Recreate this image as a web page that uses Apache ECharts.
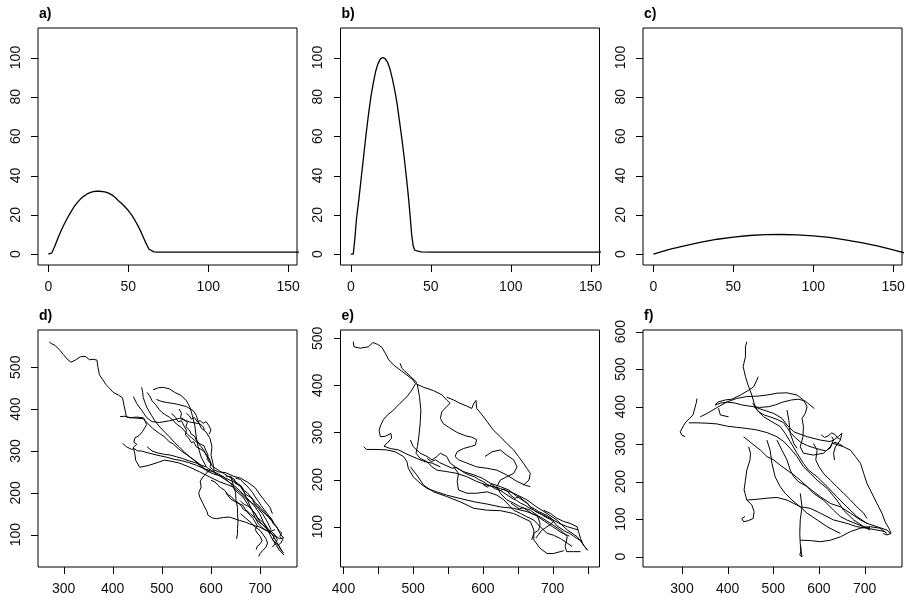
<!DOCTYPE html>
<html><head><meta charset="utf-8">
<script src="https://cdn.jsdelivr.net/npm/echarts@6/dist/echarts.min.js"></script>
<style>html,body{margin:0;padding:0;background:#fff}#c{width:907px;height:604px}</style>
</head><body><div id="c"></div>
<script>
// ---------------- data ----------------
const panelLabels = ['a)', 'b)', 'c)', 'd)', 'e)', 'f)'];

const curveA = [[0,0],[1,0],[2,0.5],[3,2.2],[4,4],[6,8.2],[8,12],[10,15.5],[12,18.5],[14,21.4],[16,24],[18,26.2],[20,28],[22,29.4],[24,30.5],[26,31.3],[28,31.8],[30,32],[32,32],[34,31.8],[36,31.5],[38,30.9],[40,30],[42,28.7],[44,27],[46,25.6],[48,24],[50,22.2],[52,20],[54,17.4],[56,14.5],[58,11.2],[60,7.5],[61,5.6],[62,4],[63,2.5],[64,1.6],[66,1.2],[68,1],[80,1],[100,1],[120,1],[140,1],[160,1]];
const curveB = [[0,0],[1.5,0],[2.5,8],[3.5,18],[5,28],[6.5,39],[8,50],[9.5,61],[11,71],[12.5,80],[14,87],[15.5,93],[17,97],[18.5,99.3],[20,100],[21.5,99.3],[23,97.5],[24.5,94],[26,89],[27.5,83],[29,76],[30.5,67],[32,58],[33.5,48],[35,37],[36,29],[37,20],[38,10],[39,4],[40,2],[42,1.5],[44,1.2],[50,1],[100,1],[160,1]];
const curveC = [[0,0],[10,2.4],[20,4.4],[30,6.1],[40,7.6],[50,8.7],[60,9.5],[70,9.9],[80,10],[90,9.8],[100,9.3],[110,8.5],[120,7.3],[130,5.9],[140,4.2],[150,2.2],[160,0]];

const tracksD = [
 [[271,560],[276,556],[283,552],[288,546],[293,540],[300,530],[307,520],[315,512],[324,517],[334,525],[344,526],[353,518],[360,519],[368,517],[370,500],[373,482],[380,470],[386,459],[394,449],[401,440],[411,434],[420,427],[423,409],[426,393],[428,381],[442,379],[462,377],[472,365],[482,353],[495,342],[506,333],[515,322],[523,317],[533,306],[543,297],[556,287],[567,277],[577,265],[587,257],[604,250],[618,240],[631,230],[645,219],[658,206],[668,193],[678,182],[690,166],[699,150],[706,132],[712,118],[720,100],[726,87],[733,74],[739,63],[749,51]],
 [[415,382],[425,383],[435,379],[448,381],[463,379],[469,363],[461,347],[454,337],[445,331],[443,321],[449,316],[442,309],[445,293],[447,277],[455,261],[472,265],[493,273],[505,278],[516,276],[536,271],[557,261],[577,250],[597,238],[618,226],[632,220],[645,214],[660,200],[672,185],[690,170],[705,150],[715,130],[722,112]],
 [[459,452],[461,440],[462,428],[469,405],[479,385],[487,370],[496,357],[506,345],[516,333],[526,320],[536,309],[547,296],[557,285],[577,269],[590,253],[605,245],[625,238],[640,222],[650,205],[665,190],[676,170],[690,150],[700,130],[712,115],[725,100],[735,80],[745,60]],
 [[482,446],[493,451],[503,452],[516,448],[526,440],[540,432],[550,420],[557,405],[562,385],[567,361],[570,333],[574,309],[580,285],[591,261],[601,253],[615,245],[630,235],[648,225],[660,215],[668,200],[675,180],[683,160],[690,140],[697,125],[706,115],[720,105],[732,95]],
 [[489,423],[500,418],[509,416],[520,414],[530,412],[550,406],[564,396],[570,385],[574,370],[580,355],[590,345],[598,330],[602,310],[600,290],[604,270],[606,255],[615,250],[630,248],[645,240],[660,235],[675,225],[690,212],[700,195],[710,180],[720,165],[725,150]],
 [[442,430],[449,413],[459,397],[469,380],[480,370],[495,368],[515,372],[536,378],[557,369],[577,365],[585,357],[586,350]],
 [[520,390],[528,380],[533,370],[540,372],[545,360],[550,350],[548,338],[555,330],[560,320],[565,322],[570,310],[578,305],[585,300],[590,292],[596,283],[600,270],[598,262],[603,256],[608,250]],
 [[420,318],[428,310],[438,304],[445,305],[450,300],[458,300],[470,296],[490,290],[510,285],[525,280],[540,277],[555,272],[570,266],[585,258],[598,252]],
 [[600,258],[592,248],[585,240],[578,228],[580,214],[575,200],[577,190],[583,176],[587,166],[592,155],[594,146],[603,140],[611,138],[625,141],[638,142],[650,137],[658,134],[670,130],[678,126],[690,121],[699,118],[712,110],[722,108],[730,112]],
 [[640,240],[645,220],[650,200],[651,181],[654,165],[654,150],[655,130],[654,115],[654,102],[652,90]],
 [[650,235],[660,232],[665,225],[672,218],[678,210],[685,200],[690,190],[696,180],[702,170],[708,160],[715,150],[720,140],[726,130],[733,120],[738,108],[742,100],[748,92],[740,90],[732,96]],
 [[660,150],[670,140],[682,128],[690,118],[700,110],[706,100],[712,90],[715,80],[712,70],[705,62],[700,55],[697,48]],
 [[630,200],[640,185],[655,175],[665,170],[670,160],[680,150],[690,140],[700,128],[712,118],[720,110],[730,100],[735,88],[730,78],[725,70]],
 [[630,240],[640,238],[648,232],[652,228],[650,222],[660,218],[665,210],[668,200],[672,195],[680,190],[685,183],[688,175],[695,168],[700,160],[708,152],[716,145],[722,140],[728,128]],
 [[535,400],[540,390],[538,380],[545,375],[552,368],[549,358],[556,350],[560,340],[566,336],[570,326],[576,318],[580,322],[586,312],[590,300],[594,290],[592,280],[598,272],[604,262],[610,258],[618,252],[626,246],[634,240],[640,236],[648,228],[655,222],[662,214],[666,206],[674,200],[680,192],[686,184],[690,176],[697,170],[702,162],[708,156],[712,148],[718,140],[724,132],[728,124],[734,118],[738,110],[744,104],[740,96],[746,88],[742,80],[736,74]],
 [[550,390],[556,384],[560,376],[566,380],[572,370],[578,372],[584,366],[590,370],[596,360],[600,350],[596,340]],
 [[660,180],[668,172],[676,168],[684,158],[690,150],[694,140],[700,136],[706,128],[712,122],[716,112],[722,104],[728,96],[726,88],[732,80],[738,72],[742,64],[748,56]],
 [[600,230],[608,226],[614,218],[620,212],[628,206],[634,196],[642,190],[648,182],[656,176],[662,168],[666,160],[672,156],[680,146],[686,138],[690,130],[694,122],[690,112],[694,104],[700,96],[704,86],[700,78],[694,72],[692,64]],
 [[470,440],[476,430],[480,420],[488,410],[494,400],[500,392],[508,386],[516,380],[524,372],[530,364],[540,356],[546,348],[552,340],[560,332],[566,326],[574,318],[580,310],[586,300],[590,290],[596,278],[600,268]],
 [[470,310],[480,300],[492,295],[505,292],[518,290],[530,286],[542,282],[556,276],[568,272],[580,266],[590,262]]
];

const tracksE = [
 [[414,493],[415,482],[424,479],[436,482],[442,491],[444,493],[449,487],[455,481],[460,468],[465,454],[472,443],[481,433],[491,422],[500,411],[503,404],[515,396],[529,389],[541,380],[548,369],[553,362],[548,355],[541,344],[539,330],[543,319],[551,311],[563,300],[575,293],[584,290],[591,285],[589,273],[582,270],[572,266],[563,259],[560,249],[565,242],[577,235],[591,227],[606,224],[620,220],[634,210],[649,196],[661,188],[668,185]],
 [[503,403],[498,390],[491,376],[481,362],[472,348],[463,337],[457,327],[453,314],[451,304],[453,291],[460,292],[468,298],[469,288],[463,278],[458,271],[467,266],[479,263],[491,254],[505,245],[517,238],[527,235],[539,227]],
 [[506,401],[509,376],[511,348],[510,319],[508,291],[506,270],[504,256],[510,245],[520,238],[527,227],[534,220],[548,217],[563,213],[577,206],[591,196],[606,188],[625,181],[644,171],[663,157],[677,142],[692,128],[706,114],[721,93],[735,79],[750,50]],
 [[429,270],[433,264],[448,264],[462,263],[474,259],[486,249],[491,238],[493,224],[500,206],[510,192],[520,181],[534,174],[548,167],[567,160],[587,153],[606,148],[625,142],[644,139],[663,132],[682,121],[697,107],[711,93],[721,79],[718,58],[720,47],[730,47],[740,47]],
 [[496,227],[505,210],[515,188],[529,174],[548,164],[567,153],[587,139],[606,135],[625,134],[644,128],[654,121],[668,111],[673,93],[673,72],[682,54],[692,43],[701,43],[716,49]],
 [[496,284],[500,270],[510,256],[520,249],[527,242],[534,249],[539,256],[548,249],[553,235],[563,224],[572,217],[587,210],[599,203],[611,192],[625,185],[637,178],[649,164],[663,150],[673,135],[682,128],[692,121],[701,114],[711,106],[721,100],[730,96],[737,93]],
 [[548,375],[558,369],[567,362],[577,356],[584,351],[587,362],[590,368],[591,351],[599,337],[606,323],[615,305],[625,291],[634,277],[644,263],[651,249],[658,235],[663,224],[668,213],[666,199],[658,188]],
 [[603,249],[613,259],[625,263],[634,252],[644,242],[649,227],[644,213],[634,206],[625,199],[620,185],[625,171],[634,157],[644,150],[654,142],[668,135],[678,124],[682,106],[680,93],[673,86],[670,72]],
 [[558,227],[565,213],[563,196],[565,178],[577,171],[591,171],[606,174],[620,167],[630,157],[637,146],[644,135],[654,128],[663,121],[673,114],[682,100],[692,86],[701,82],[711,75],[721,65],[728,58]],
 [[687,135],[697,128],[706,118],[716,111],[725,107],[735,100],[737,90],[740,75],[744,61],[750,50]],
 [[481,447],[484,436],[496,419],[504,408],[505,404]],
 [[520,245],[526,238],[532,242],[538,236],[544,232],[550,228],[556,224],[562,226],[568,220],[574,214],[580,210],[588,206],[594,200],[600,196],[606,190],[612,186],[618,180],[624,178],[630,172],[636,166],[642,160],[648,156],[654,150],[660,146],[666,140],[672,136],[678,130],[684,126],[690,120],[696,116],[702,110],[706,102],[712,96],[718,90],[724,86],[730,80],[736,74],[742,70]],
 [[600,190],[606,184],[612,190],[618,184],[624,176],[630,180],[636,174],[640,166],[646,160],[652,164],[658,156],[664,150],[668,142],[674,138],[680,132],[686,128],[692,124],[698,118],[702,112],[696,104],[690,98],[684,92],[680,84],[676,76]],
 [[640,150],[646,144],[652,138],[658,140],[664,134],[670,128],[676,124],[682,118],[688,112],[694,106],[700,100],[706,94],[712,88],[718,84],[724,80]]
];

const tracksF = [
 [[442,573],[439,560],[439,533],[434,507],[439,480],[446,453],[453,431],[458,409],[464,391],[479,373],[497,360],[515,347],[526,329],[537,307],[552,276],[566,249],[577,231],[596,213],[618,187],[639,160],[661,133],[683,107],[705,89],[727,80],[749,71],[756,62]],
 [[333,422],[331,409],[327,391],[324,378],[317,369],[309,360],[304,351],[300,342],[296,333],[300,324],[307,320]],
 [[315,357],[333,357],[355,356],[377,354],[399,348],[420,345],[442,342],[464,338],[486,331],[508,320],[523,307],[537,289],[552,267],[566,240],[581,222],[596,204],[618,182],[639,151],[654,124],[676,98],[698,80],[712,71]],
 [[340,373],[355,382],[377,398],[399,413],[420,422],[442,427],[464,428],[486,431],[508,436],[530,437],[552,431],[566,418],[574,400],[570,382],[563,369],[566,347],[565,320],[559,293],[566,276],[588,271],[610,276],[625,293],[632,311],[628,320]],
 [[373,406],[380,413],[395,418],[409,420],[428,431],[446,444],[457,453],[464,471],[467,480]],
 [[380,396],[384,378],[402,373]],
 [[457,400],[479,391],[501,382],[519,369],[530,351],[545,333],[574,320],[603,311],[624,307],[632,311],[642,320],[650,329],[647,311],[636,293],[632,276],[634,258]],
 [[632,302],[654,293],[669,284],[680,267],[691,249],[698,222],[705,196],[716,169],[727,142],[738,116],[745,93],[753,76],[758,62],[749,58],[741,62]],
 [[435,320],[453,302],[472,284],[486,267],[501,258],[515,244],[530,231],[545,218],[559,204],[574,187],[588,169],[610,151],[632,124],[647,107],[661,98],[683,87],[698,80],[712,78]],
 [[446,293],[450,276],[449,258],[442,231],[439,204],[436,178],[442,151],[453,138],[458,120],[456,102],[445,96],[435,93],[431,102],[438,107]],
 [[442,151],[464,153],[486,156],[508,158],[530,151],[545,142],[559,133],[581,129],[603,116],[632,98],[661,89],[683,80],[705,76],[727,71],[745,67]],
 [[559,169],[563,133],[559,98],[558,62],[559,36],[561,18],[558,4],[563,0],[559,27]],
 [[559,44],[581,43],[603,40],[625,44],[647,53],[669,67],[691,76],[712,80],[734,76],[749,62]],
 [[486,311],[493,284],[497,249],[504,213],[515,187],[526,169],[541,151],[559,133],[574,116],[596,98],[618,80],[632,71],[647,62]],
 [[508,311],[519,284],[530,258],[537,231],[545,213],[555,200],[574,187],[603,160],[625,142],[647,133],[669,116],[691,98],[705,89]],
 [[588,302],[596,284],[593,258],[600,240],[610,222],[625,204],[639,187],[654,169],[669,151],[683,133],[698,116],[705,102]],
 [[530,391],[534,364],[537,329],[545,302],[552,289]],
 [[372,404],[385,410],[400,412],[415,410],[430,405],[445,402],[457,400],[470,398],[490,400],[505,405],[520,412],[540,418],[555,420],[570,415],[580,405],[590,395]],
 [[455,410],[462,395],[470,385],[480,378],[495,372],[510,365],[522,358],[530,345],[538,330],[548,318],[560,305],[575,296],[590,290],[605,285],[615,282],[625,290],[628,300],[635,305],[645,300],[652,295]],
 [[605,325],[612,318],[620,322],[628,330],[635,326],[640,318],[648,312]]
];

const xTicksTop = [0, 50, 100, 150];
const yTicksTop = [0, 20, 40, 60, 80, 100];
const xTicksD = [300, 400, 500, 600, 700];
const yTicksD = [100, 200, 300, 400, 500];
const xTicksE = [400, 450, 500, 550, 600, 650, 700, 750];
const xLabelsE = [400, 500, 600, 700];
const yTicksE = [100, 200, 300, 400, 500];
const xTicksF = [300, 400, 500, 600, 700];
const yTicksF = [0, 100, 200, 300, 400, 500, 600];

// ---------------- layout ----------------
const colLeft = [38, 340.5, 643];
const rowTop = [28, 330];
const W = 259, H = 237;
const TICK = 7, MARGIN = 15;
const xRange = [[-6.5,155.5],[-6.5,155.5],[-6.5,155.5],[248,775],[395.7,767.2],[214.6,781.9]];
const yRange = [[-5.5,115],[-5.5,115],[-5.5,115],[22.7,589],[14.4,517.6],[-27.5,604.5]];
const xT = [xTicksTop,xTicksTop,xTicksTop,xTicksD,xTicksE,xTicksF];
const xL = [xTicksTop,xTicksTop,xTicksTop,xTicksD,xLabelsE,xTicksF];
const yT = [yTicksTop,yTicksTop,yTicksTop,yTicksD,yTicksE,yTicksF];

const FONT = '"Liberation Sans", Arial, sans-serif';
const LABEL_FONT = '14px ' + FONT;
const grids = [], xAxes = [], yAxes = [], titles = [], series = [];
for (let i = 0; i < 6; i++) {
  const c = i % 3, r = Math.floor(i / 3);
  grids.push({left: colLeft[c], top: rowTop[r], width: W, height: H, show: true,
    borderColor: '#000', borderWidth: 1, backgroundColor: 'transparent', containLabel: false, z: 0});
  xAxes.push({type: 'value', gridIndex: i, position: 'bottom', min: xRange[i][0], max: xRange[i][1],
    axisLine: {show: false, onZero: false}, splitLine: {show: false}, axisTick: {show: false}, axisLabel: {show: false}});
  yAxes.push({type: 'value', gridIndex: i, position: 'left', min: yRange[i][0], max: yRange[i][1],
    axisLine: {show: false, onZero: false}, splitLine: {show: false}, axisTick: {show: false}, axisLabel: {show: false}});
  titles.push({text: panelLabels[i], left: colLeft[c] + 1, top: rowTop[r] - 21, padding: 0,
    textStyle: {fontSize: 14, fontWeight: 'bold', color: '#000', fontFamily: FONT}});
  const yMin = yRange[i][0], xMin = xRange[i][0];
  // x tick marks placed through the axis scale
  series.push({type: 'custom', xAxisIndex: i, yAxisIndex: i, clip: false, silent: true, z: 20,
    data: xT[i].map(v => [v, yMin]),
    renderItem: (params, api) => {
      const p = api.coord([api.value(0), api.value(1)]);
      return {type: 'rect', shape: {x: Math.round(p[0]), y: Math.round(p[1]), width: 1, height: TICK},
        style: {fill: '#000'}};
    }});
  // x labels
  series.push({type: 'custom', xAxisIndex: i, yAxisIndex: i, clip: false, silent: true, z: 10,
    data: xL[i].map(v => [v, yMin]),
    renderItem: (params, api) => {
      const p = api.coord([api.value(0), api.value(1)]);
      return {type: 'text', x: p[0], y: p[1] + MARGIN,
        style: {text: String(api.value(0)), font: LABEL_FONT, fill: '#111', align: 'center', verticalAlign: 'top'}};
    }});
  // y tick marks
  series.push({type: 'custom', xAxisIndex: i, yAxisIndex: i, clip: false, silent: true, z: 20,
    data: yT[i].map(v => [xMin, v]),
    renderItem: (params, api) => {
      const p = api.coord([api.value(0), api.value(1)]);
      return {type: 'rect', shape: {x: Math.round(p[0]) - TICK, y: Math.round(p[1]), width: TICK, height: 1},
        style: {fill: '#000'}};
    }});
  // y labels
  series.push({type: 'custom', xAxisIndex: i, yAxisIndex: i, clip: false, silent: true, z: 10,
    data: yT[i].map(v => [xMin, v]),
    renderItem: (params, api) => {
      const p = api.coord([api.value(0), api.value(1)]);
      return {type: 'text', x: p[0] - MARGIN, y: p[1], rotation: Math.PI / 2,
        style: {text: String(api.value(1)), font: LABEL_FONT, fill: '#111', align: 'center', verticalAlign: 'bottom'}};
    }});
}
function addLine(idx, data, w) {
  series.push({type: 'line', xAxisIndex: idx, yAxisIndex: idx, data: data, showSymbol: false, symbol: 'none',
    smooth: false, clip: true, silent: true, lineStyle: {color: '#000', width: w}});
}
addLine(0, curveA, 1.3);
addLine(1, curveB, 1.3);
addLine(2, curveC, 1.3);
tracksD.forEach(t => addLine(3, t, 1));
tracksE.forEach(t => addLine(4, t, 1));
tracksF.forEach(t => addLine(5, t, 1));

const chart = echarts.init(document.getElementById('c'), null, {renderer: 'canvas'});
chart.setOption({animation: false, backgroundColor: '#fff', title: titles, grid: grids,
  xAxis: xAxes, yAxis: yAxes, series: series, tooltip: {show: false}});
</script></body></html>
